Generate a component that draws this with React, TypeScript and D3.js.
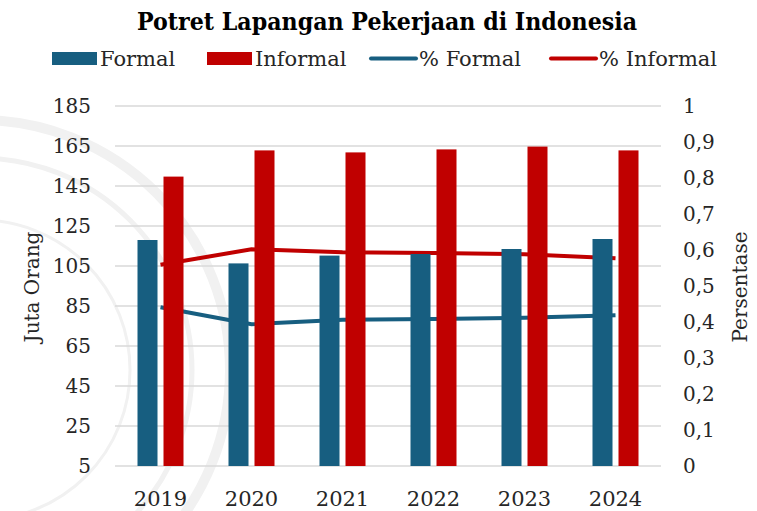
import React, { useEffect, useRef } from 'react';
import * as d3 from 'd3';

const years = ['2019', '2020', '2021', '2022', '2023', '2024'];
const formal = [118.0, 106.3, 110.2, 111.0, 113.5, 118.5];
const informal = [149.7, 162.8, 161.8, 163.3, 164.7, 162.8];
const pctFormal = [0.441, 0.394, 0.406, 0.408, 0.412, 0.419];
const pctInformal = [0.559, 0.602, 0.594, 0.592, 0.588, 0.577];
const leftTicks = [5, 25, 45, 65, 85, 105, 125, 145, 165, 185];
const rightTicks = [0, 0.1, 0.2, 0.3, 0.4, 0.5, 0.6, 0.7, 0.8, 0.9, 1];
const barKeys = ['Formal', 'Informal'];

const BLUE = '#175e80';
const RED = '#c00000';
const FONT = '"DejaVu Serif", serif';

function Chart() {
  const svgRef = useRef<SVGSVGElement>(null);

  useEffect(() => {
    const svg = d3.select(svgRef.current);
    svg.selectAll('*').remove();

    const left = 115, right = 661, top = 106, bottom = 466;

    const x0 = d3.scaleBand().domain(years).range([left, right]);
    const x1 = d3.scaleBand().domain(barKeys).range([22.5, 68.5]).paddingInner(6 / 26);
    const y = d3.scaleLinear().domain([5, 185]).range([bottom, top]);
    const yr = d3.scaleLinear().domain([0, 1]).range([bottom, top]);
    const cx = (d: string) => (x0(d) as number) + x0.bandwidth() / 2;

    // faint watermark behind everything
    const wm = svg.append('g').attr('fill', 'none').attr('stroke', '#f1f1f1');
    wm.append('circle').attr('cx', -20).attr('cy', 370).attr('r', 250).attr('stroke-width', 10);
    wm.append('circle').attr('cx', -20).attr('cy', 370).attr('r', 212).attr('stroke-width', 5);
    wm.append('circle').attr('cx', -20).attr('cy', 370).attr('r', 150).attr('stroke-width', 3);

    // gridlines
    svg.append('g')
      .selectAll('line')
      .data(leftTicks)
      .join('line')
      .attr('x1', left)
      .attr('x2', right)
      .attr('y1', (d) => y(d))
      .attr('y2', (d) => y(d))
      .attr('stroke', '#d9d9d9')
      .attr('stroke-width', 1.6);

    // percentage lines (drawn under the bars)
    const pctLine = d3.line<number>()
      .x((_, i) => cx(years[i]))
      .y((d) => yr(d));
    svg.append('path')
      .attr('d', pctLine(pctFormal))
      .attr('fill', 'none')
      .attr('stroke', BLUE)
      .attr('stroke-width', 4);
    svg.append('path')
      .attr('d', pctLine(pctInformal))
      .attr('fill', 'none')
      .attr('stroke', RED)
      .attr('stroke-width', 4);

    // bars
    const series = [formal, informal];
    const colors = [BLUE, RED];
    barKeys.forEach((key, k) => {
      svg.append('g')
        .selectAll('rect')
        .data(series[k])
        .join('rect')
        .attr('x', (_, i) => (x0(years[i]) as number) + (x1(key) as number))
        .attr('y', (d) => y(d))
        .attr('width', x1.bandwidth())
        .attr('height', (d) => bottom - y(d))
        .attr('fill', colors[k]);
    });

    // left axis labels
    svg.append('g')
      .selectAll('text')
      .data(leftTicks)
      .join('text')
      .attr('x', 91)
      .attr('y', (d) => y(d))
      .attr('dy', '0.35em')
      .attr('text-anchor', 'end')
      .attr('font-family', FONT)
      .attr('font-size', 20)
      .attr('fill', '#262626')
      .text((d) => d);

    // right axis labels
    svg.append('g')
      .selectAll('text')
      .data(rightTicks)
      .join('text')
      .attr('x', 683)
      .attr('y', (d) => yr(d))
      .attr('dy', '0.35em')
      .attr('text-anchor', 'start')
      .attr('font-family', FONT)
      .attr('font-size', 20)
      .attr('fill', '#262626')
      .text((d) => String(d).replace('.', ','));

    // category labels
    svg.append('g')
      .selectAll('text')
      .data(years)
      .join('text')
      .attr('x', (d) => cx(d))
      .attr('y', 506)
      .attr('text-anchor', 'middle')
      .attr('font-family', FONT)
      .attr('font-size', 21)
      .attr('fill', '#262626')
      .text((d) => d);

    // axis titles
    svg.append('text')
      .attr('transform', 'translate(39,287) rotate(-90)')
      .attr('text-anchor', 'middle')
      .attr('font-family', FONT)
      .attr('font-size', 20)
      .attr('fill', '#262626')
      .text('Juta Orang');
    svg.append('text')
      .attr('transform', 'translate(747,287) rotate(-90)')
      .attr('text-anchor', 'middle')
      .attr('font-family', FONT)
      .attr('font-size', 20)
      .attr('fill', '#262626')
      .text('Persentase');

    // title
    svg.append('text')
      .attr('x', 387)
      .attr('y', 30)
      .attr('text-anchor', 'middle')
      .attr('font-family', FONT)
      .attr('font-weight', 'bold')
      .attr('font-size', 24)
      .attr('textLength', 500)
      .attr('lengthAdjust', 'spacingAndGlyphs')
      .attr('fill', '#000')
      .text('Potret Lapangan Pekerjaan di Indonesia');

    // legend
    const legend = [
      { label: 'Formal', color: BLUE, type: 'rect', x: 52 },
      { label: 'Informal', color: RED, type: 'rect', x: 207 },
      { label: '% Formal', color: BLUE, type: 'line', x: 371 },
      { label: '% Informal', color: RED, type: 'line', x: 551 },
    ];
    const lg = svg.append('g');
    legend.forEach((it) => {
      if (it.type === 'rect') {
        lg.append('rect').attr('x', it.x).attr('y', 52).attr('width', 45).attr('height', 13).attr('fill', it.color);
      } else {
        lg.append('line')
          .attr('x1', it.x).attr('x2', it.x + 45)
          .attr('y1', 58.5).attr('y2', 58.5)
          .attr('stroke', it.color).attr('stroke-width', 4).attr('stroke-linecap', 'round');
      }
      lg.append('text')
        .attr('x', it.x + 48)
        .attr('y', 58.5)
        .attr('dy', '0.35em')
        .attr('font-family', FONT)
        .attr('font-size', 21)
        .attr('fill', '#262626')
        .text(it.label);
    });
  }, []);

  return <svg ref={svgRef} width={757} height={511} style={{ position: 'absolute', left: 0, top: 0, background: '#fff' }} />;
}

export default function App() {
  return <Chart />;
}
